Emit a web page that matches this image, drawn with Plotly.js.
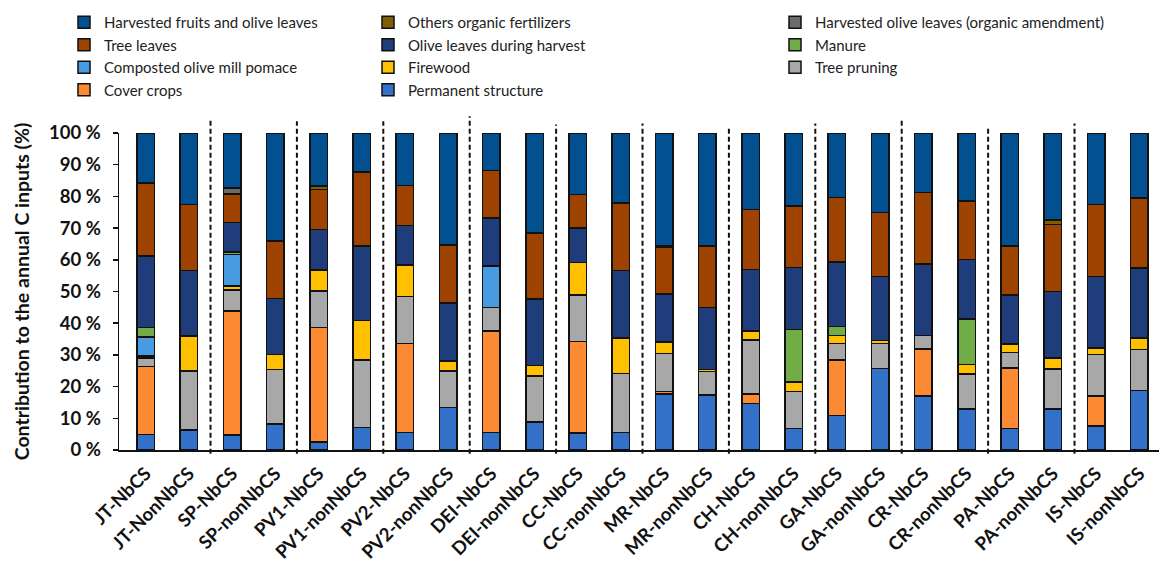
<!DOCTYPE html>
<html>
<head>
<meta charset="utf-8">
<script src="https://cdn.plot.ly/plotly-3.0.1.min.js"></script>
<style>html,body{margin:0;padding:0;background:#fff;}#chart{width:1159px;height:566px;}</style>
</head>
<body>
<div id="chart"></div>
<script>
const categories = ["JT-NbCS","JT-NonNbCS","SP-NbCS","SP-nonNbCS","PV1-NbCS","PV1-nonNbCS","PV2-NbCS","PV2-nonNbCS","DEI-NbCS","DEI-nonNbCS","CC-NbCS","CC-nonNbCS","MR-NbCS","MR-nonNbCS","CH-NbCS","CH-nonNbCS","GA-NbCS","GA-nonNbCS","CR-NbCS","CR-nonNbCS","PA-NbCS","PA-nonNbCS","IS-NbCS","IS-nonNbCS"];

const permanentStructure = [4.9,6.3,4.7,8.2,2.6,7.1,5.6,13.4,5.6,8.9,5.3,5.5,17.6,17.3,14.7,6.8,10.9,25.7,17.0,12.9,6.8,12.9,7.6,18.7];
const coverCrops        = [21.4,0,39.2,0,36.1,0,28.0,0,32.0,0,29.0,0,0.8,0,2.9,0,17.5,0,14.9,0,19.1,0,9.5,0];
const treePruning       = [2.8,18.6,6.5,17.2,11.4,21.3,14.9,11.6,7.4,14.5,14.6,18.7,12.1,7.4,17.1,11.6,5.2,7.9,4.2,11.1,4.8,12.7,13.0,13.0];
const firewood          = [0.6,11.0,1.4,4.7,6.7,12.4,9.8,3.0,0,3.2,10.2,11.2,3.6,0.7,2.9,3.1,2.6,0.9,0,3.0,2.7,3.5,2.0,3.7];
const compostedPomace   = [6.0,0,9.9,0,0,0,0,0,13.1,0,0,0,0,0,0,0,0,0,0,0,0,0,0,0];
const manure            = [3.0,0,0.8,0,0,0,0,0,0,0,0,0,0,0,0,16.5,2.7,0,0,14.4,0,0,0,0];
const oliveLeavesHarvest= [22.5,20.7,9.2,17.7,12.8,23.6,12.5,18.4,15.1,21.0,10.9,21.2,15.1,19.6,19.3,19.6,20.4,20.2,22.5,18.7,15.5,20.9,22.6,22.0];
const treeLeaves        = [23.0,20.8,9.0,18.2,12.5,23.3,12.7,18.2,15.0,20.9,10.6,21.3,14.9,19.3,18.9,19.4,20.3,20.2,22.6,18.5,15.5,21.2,22.7,22.1];
const harvOliveLeavesAmend = [0,0,2.0,0,0,0,0,0,0,0,0,0,0,0,0,0,0,0,0,0,0,0,0,0];
const othersOrganicFert = [0,0,0,0,1.2,0,0,0,0,0,0,0,0.3,0,0,0,0,0,0,0,0,1.3,0,0];
const harvestedFruits   = [15.8,22.6,17.3,34.0,16.7,12.3,16.5,35.4,11.8,31.5,19.4,22.1,35.6,35.7,24.2,23.0,20.4,25.1,18.8,21.4,35.6,27.5,22.6,20.5];

// separator positions (between site pairs) and their top extents (paper units)
const separatorX = [1.5,3.5,5.5,7.5,9.5,11.5,13.5,15.5,17.5,19.5,21.5];
const separatorTop = [1.043,1.037,1.037,1.053,1.027,1.030,1.018,1.030,1.040,1.021,1.030];

const FONT = "Lato, 'Open Sans', sans-serif";

const seriesDefs = [
  {name:"Permanent structure", y:permanentStructure, color:"#3370C8", legend:"legend2", rank:4},
  {name:"Cover crops", y:coverCrops, color:"#FB8A33", legend:"legend", rank:4},
  {name:"Tree pruning", y:treePruning, color:"#A8A8A8", legend:"legend3", rank:3},
  {name:"Firewood", y:firewood, color:"#FFC000", legend:"legend2", rank:3},
  {name:"Composted olive mill pomace", y:compostedPomace, color:"#479BE0", legend:"legend", rank:3},
  {name:"Manure", y:manure, color:"#70AD47", legend:"legend3", rank:2},
  {name:"Olive leaves during harvest", y:oliveLeavesHarvest, color:"#1F3D7A", legend:"legend2", rank:2},
  {name:"Tree leaves", y:treeLeaves, color:"#9E4200", legend:"legend", rank:2},
  {name:"Harvested olive leaves (organic amendment)", y:harvOliveLeavesAmend, color:"#6B6B6B", legend:"legend3", rank:1},
  {name:"Others organic fertilizers", y:othersOrganicFert, color:"#7F5F00", legend:"legend2", rank:1},
  {name:"Harvested fruits and olive leaves", y:harvestedFruits, color:"#02508F", legend:"legend", rank:1}
];

const traces = seriesDefs.map(s => ({
  type:"bar",
  name:s.name,
  x:categories,
  y:s.y,
  legend:s.legend,
  legendrank:s.rank,
  marker:{color:s.color, line:{color:"#111111", width:1.5}},
  hoverinfo:"skip"
}));

const shapes = separatorX.map((x, i) => ({
  type:"line", xref:"x", yref:"paper",
  x0:x, x1:x, y0:-0.012, y1:separatorTop[i],
  line:{color:"#111111", width:2, dash:"5px,3px"}
}));

const PLOT_L = 119, PLOT_W = 1040;
const legendCommon = {
  orientation:"v", traceorder:"normal", xref:"paper", yref:"container",
  xanchor:"left", yanchor:"top", bgcolor:"rgba(0,0,0,0)", borderwidth:0,
  font:{family:FONT, size:15, color:"#222"}, tracegroupgap:0, itemclick:false, itemdoubleclick:false
};

const layout = {
  width:1159, height:566,
  margin:{l:PLOT_L, r:0, t:132.7, b:116, pad:0},
  paper_bgcolor:"#ffffff", plot_bgcolor:"#ffffff",
  barmode:"stack", bargap:0.595,
  font:{family:FONT, color:"#111"},
  showlegend:true,
  legend: Object.assign({}, legendCommon, {x:(64-PLOT_L)/PLOT_W, y:1-6/566}),
  legend2: Object.assign({}, legendCommon, {x:(368-PLOT_L)/PLOT_W, y:1-6/566}),
  legend3: Object.assign({}, legendCommon, {x:(775-PLOT_L)/PLOT_W, y:1-6/566}),
  xaxis:{
    type:"category", range:[-0.618, 23.456],
    showline:true, linecolor:"#111", linewidth:1.5,
    ticks:"", showgrid:false, zeroline:false,
    tickangle:-45,
    ticklabelstandoff:4,
    tickfont:{family:FONT, size:18.5, weight:"bold", color:"#111"},
    automargin:false
  },
  yaxis:{
    range:[0,100], dtick:10, tick0:0,
    ticksuffix:" %",
    showline:true, linecolor:"#111", linewidth:1.5,
    ticks:"outside", ticklen:5, tickwidth:1.5, tickcolor:"#111",
    ticklabelstandoff:8,
    showgrid:false, zeroline:false,
    tickfont:{family:FONT, size:18.5, weight:"bold", color:"#111"},
    title:{text:"Contribution to the annual C inputs (%)", font:{family:FONT, size:19.5, weight:"bold", color:"#111"}, standoff:14},
    automargin:false
  },
  shapes:shapes
};

Plotly.newPlot("chart", traces, layout, {staticPlot:true, displayModeBar:false});
</script>
</body>
</html>
